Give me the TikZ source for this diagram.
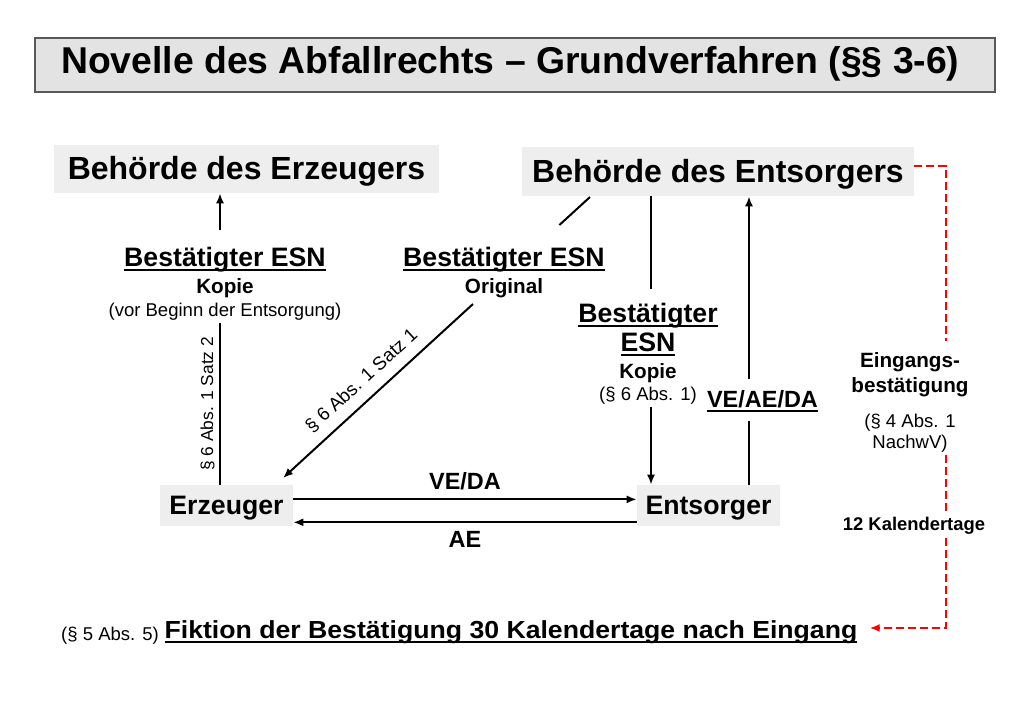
\documentclass[tikz,border=0pt]{standalone}
\usepackage{fontspec}
\setmainfont{Liberation Sans}
\newfontfamily\widefont[FakeStretch=1.08]{Liberation Sans}
\newcommand{\ulbox}[1]{\leavevmode\setbox0\hbox{#1}\rlap{\rule[-3.4pt]{\wd0}{1.4pt}}\box0}
\usetikzlibrary{arrows.meta,%
                positioning}

\definecolor{titlegray}{gray}{0.89}
\definecolor{titleframe}{gray}{0.35}
\definecolor{boxgray}{gray}{0.935}

\tikzset{
  bigbox/.style={fill=boxgray, inner sep=0pt, text height=17.3pt, text depth=1.2pt,
                 font=\fontsize{24}{28}\selectfont\bfseries},
  actbox/.style={fill=boxgray, inner sep=0pt, text height=14.8pt, text depth=0.6pt,
                 font=\fontsize{20}{24}\selectfont\bfseries},
  txt/.style={anchor=base, inner sep=2pt},
  head/.style={font=\fontsize{20}{24}\selectfont\bfseries},
  sub/.style={font=\fontsize{15.5}{18}\selectfont\bfseries},
  para/.style={font=\fontsize{13.9}{16}\selectfont},
  flowtxt/.style={font=\fontsize{17.6}{21}\selectfont\bfseries},
  flow/.style={line width=1.5pt, >={Latex[length=7.5pt,width=6pt]}},
  redflow/.style={flow, red, dash pattern=on 6pt off 3pt}
}

\begin{document}
\begin{tikzpicture}[x=0.75pt,y=-0.75pt]
\useasboundingbox (0,0) rectangle (1033,701);

\node[draw=titleframe, line width=1.3pt, fill=titlegray, minimum width=720pt, minimum height=40.5pt,
      inner sep=0pt, text height=20pt, text depth=7.2pt, font=\fontsize{28}{33}\selectfont\bfseries]
      (title) at (515,65) {Novelle des Abfallrechts – Grundverfahren (§§ 3-6)\hspace*{7pt}};

\node[bigbox, minimum width=288.75pt, minimum height=36pt] (behErz) at (246.5,169) {Behörde des Erzeugers};
\node[bigbox, minimum width=294pt, minimum height=36.75pt] (behEnt) at (718,171.5) {Behörde des Entsorgers};
\node[actbox, minimum width=99.75pt, minimum height=30.75pt] (erz) at (226.5,505.5) {Erzeuger};
\node[actbox, minimum width=107.25pt, minimum height=30.75pt] (ent) at (708.5,505.5) {Entsorger};

\coordinate (lx) at (220,0);
\coordinate (rx) at (651,0);
\coordinate (vx) at (749,0);
\coordinate (ex) at (946,0);
\coordinate (dtop) at (590,197);
\coordinate (dcut1) at (559.4,225);
\coordinate (dcut2) at (473,304);
\coordinate (dbot) at (283,478);

\node[txt, head] (esnL1) at (225,266) {\ulbox{Bestätigter ESN}};
\node[txt, sub] (esnL2) at (225,293) {Kopie};
\node[txt, para] (esnL3) at (225,316) {(vor Beginn der Entsorgung)};

\node[txt, head] (esnO1) at (504,266) {\ulbox{Bestätigter ESN}};
\node[txt, sub] (esnO2) at (504,293) {Original};

\node[txt, head] (esnR1) at (648,322) {\ulbox{Bestätigter}};
\node[txt, head] (esnR2) at (648,351) {\ulbox{ESN}};
\node[txt, sub] (esnR3) at (648,378) {Kopie};
\node[txt, para] (esnR4) at (648,400) {(§ 6 Abs. 1)};

\node[txt, flowtxt] (veaeda) at (762.5,407) {\ulbox{VE/AE/DA}};

\node[txt, sub] (eing1) at (910,367) {Eingangs-};
\node[txt, sub] (eing2) at (910,392) {bestätigung};
\node[txt, para] (eing3) at (910,427) {(§ 4 Abs. 1};
\node[txt, para] (eing4) at (910,448) {NachwV)};
\node[txt, font=\fontsize{13.8}{16}\selectfont\bfseries] (kal) at (914,530.7) {12 Kalendertage};

\node[txt, para] (abs5) at (110,640) {(§ 5 Abs. 5)};
\node[txt, font=\fontsize{18.5}{22}\widefont\bfseries] (fikt) at (511,638.3)
     {\ulbox{Fiktion der Bestätigung 30 Kalendertage nach Eingang}};

\draw[flow] (dtop) -- (dcut1);
\draw[flow,->] (dcut2) -- node[pos=0.52, sloped, above=4.5pt, font=\fontsize{14}{16}\selectfont] {§ 6 Abs. 1 Satz 1} (dbot);

\draw[flow,->] ([yshift=10pt]esnL1.north -| lx) -- (behErz.south -| lx);
\draw[flow] (esnL3.south -| lx) -- (erz.north -| lx)
     node[midway, rotate=90, anchor=south, font=\fontsize{13}{15}\selectfont] {§ 6 Abs. 1 Satz 2};

\draw[flow] (behEnt.south -| rx) -- ([yshift=8pt]esnR1.north -| rx);
\draw[flow,->] (esnR4.south -| rx) -- (ent.north -| rx);

\draw[flow] (ent.north -| vx) -- ([yshift=-5pt]veaeda.south -| vx);
\draw[flow,->] ([yshift=6pt]veaeda.north -| vx) -- (behEnt.south -| vx);

\draw[flow,->] ([yshift=4.6pt]erz.east) -- node[above=3pt, flowtxt] {VE/DA} ([yshift=4.6pt]ent.west);
\draw[flow,->] ([yshift=-12.6pt]ent.west) -- node[below=3pt, flowtxt] {AE} ([yshift=-12.6pt]erz.east);

\draw[redflow] ([yshift=4pt]behEnt.east) -| ([yshift=6pt]eing1.north -| ex);
\draw[redflow] (eing4.south -| ex) -- (kal.north -| ex);
\draw[redflow,->,shorten >=7pt] (kal.south -| ex) |- ([yshift=3pt]fikt.east);
\end{tikzpicture}
\end{document}
